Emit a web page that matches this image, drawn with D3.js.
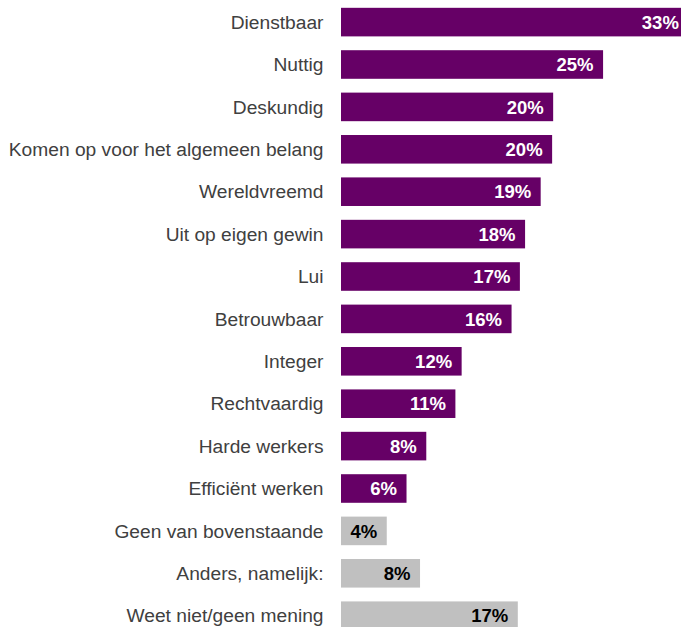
<!DOCTYPE html>
<html>
<head>
<meta charset="utf-8">
<script src="https://cdn.jsdelivr.net/npm/d3@7/dist/d3.min.js"></script>
<style>
html, body { margin: 0; padding: 0; background: #ffffff; overflow: hidden; }
svg { display: block; }
</style>
</head>
<body>
<script>
const categories = [
  "Dienstbaar", "Nuttig", "Deskundig", "Komen op voor het algemeen belang",
  "Wereldvreemd", "Uit op eigen gewin", "Lui", "Betrouwbaar", "Integer",
  "Rechtvaardig", "Harde werkers", "Efficiënt werken", "Geen van bovenstaande",
  "Anders, namelijk:", "Weet niet/geen mening"
];
const values = [33.4, 25.2, 20.4, 20.3, 19.2, 17.7, 17.2, 16.4, 11.6, 11.0, 8.2, 6.3, 4.4, 7.6, 17.0];
const labels = ["33%", "25%", "20%", "20%", "19%", "18%", "17%", "16%", "12%", "11%", "8%", "6%", "4%", "8%", "17%"];
const groups = ["main","main","main","main","main","main","main","main","main","main","main","main","other","other","other"];

const W = 681, H = 627;
const svg = d3.select("body").append("svg").attr("width", W).attr("height", H);

const x0 = 341;
const x = d3.scaleLinear().domain([0, 10]).range([x0, x0 + 104]);
const y = d3.scaleBand().domain(categories).range([0.9, 636.9]).paddingInner(0.326).paddingOuter(0.163);

const fill = d => d === "main" ? "#660066" : "#c0c0c0";
const textFill = d => d === "main" ? "#ffffff" : "#000000";

const data = categories.map((c, i) => ({ c, v: values[i], l: labels[i], g: groups[i] }));

svg.selectAll("rect.bar").data(data).join("rect")
  .attr("class", "bar")
  .attr("x", x(0))
  .attr("y", d => y(d.c))
  .attr("width", d => x(d.v) - x(0))
  .attr("height", y.bandwidth())
  .attr("fill", d => fill(d.g));

svg.selectAll("text.cat").data(data).join("text")
  .attr("class", "cat")
  .attr("x", 323.5)
  .attr("y", d => y(d.c) + y.bandwidth() / 2)
  .attr("dy", "0.35em")
  .attr("text-anchor", "end")
  .attr("font-family", "'Liberation Sans', Arial, sans-serif")
  .attr("font-size", "19.2px")
  .attr("fill", "#404040")
  .text(d => d.c);

svg.selectAll("text.val").data(data).join("text")
  .attr("class", "val")
  .attr("x", d => Math.min(x(d.v) - 9.5, 679))
  .attr("y", d => y(d.c) + y.bandwidth() / 2)
  .attr("dy", "0.36em")
  .attr("text-anchor", "end")
  .attr("font-family", "'Liberation Sans', Arial, sans-serif")
  .attr("font-weight", "bold")
  .attr("font-size", "18.5px")
  .attr("fill", d => textFill(d.g))
  .text(d => d.l);
</script>
</body>
</html>
